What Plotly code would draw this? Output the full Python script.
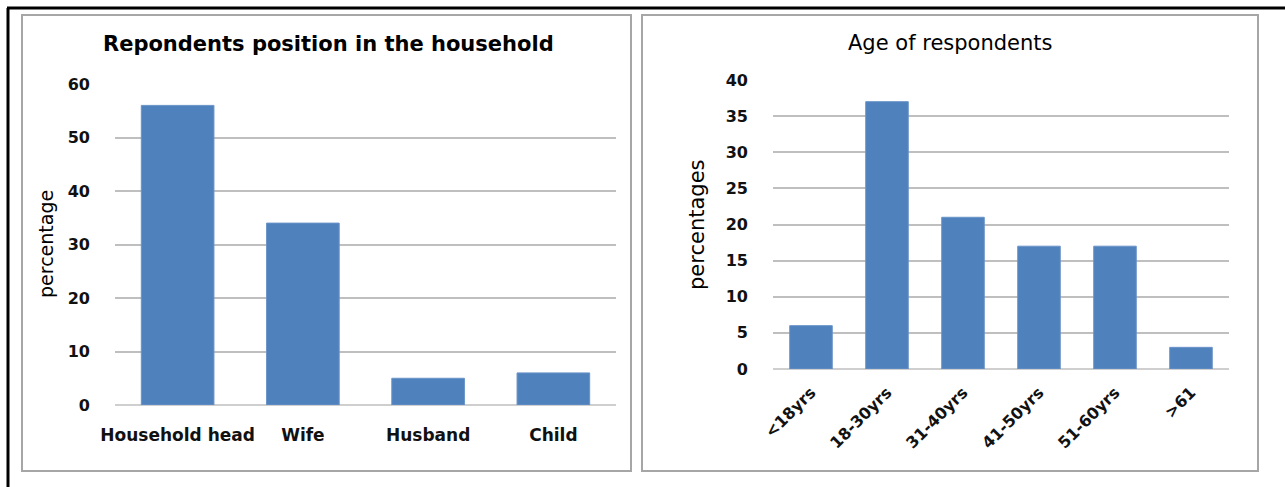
import plotly.graph_objects as go

W, H = 1285, 487

# Data
pos_categories = ["Household head", "Wife", "Husband", "Child"]
pos_values = [56, 34, 5, 6]
age_categories = ["<18yrs", "18-30yrs", "31-40yrs", "41-50yrs", "51-60yrs", ">61"]
age_values = [6, 37, 21, 17, 17, 3]

BAR = "#4f81bd"
GRID = "#bfbfbf"
FONT = "DejaVu Sans, Liberation Sans, Arial, sans-serif"

def px(x):
    return x / W

def py(y):
    return 1 - y / H

fig = go.Figure()
fig.add_trace(go.Bar(x=pos_categories, y=pos_values, marker=dict(color=BAR, line=dict(color="#6a93c8", width=1)),
                     width=0.58, xaxis="x", yaxis="y", showlegend=False))
fig.add_trace(go.Bar(x=age_categories, y=age_values, marker=dict(color=BAR, line=dict(color="#6a93c8", width=1)),
                     width=0.56, xaxis="x2", yaxis="y2", showlegend=False))

fig.update_layout(
    width=W, height=H,
    margin=dict(l=0, r=0, t=0, b=0, autoexpand=False),
    paper_bgcolor="white", plot_bgcolor="white",
    xaxis=dict(domain=[px(115), px(616)], anchor="y", showgrid=False, zeroline=False, automargin=False,
               showline=False, tickfont=dict(family=FONT, size=17, color="#111", weight="bold"),
               ticks="", ticklabelstandoff=18, fixedrange=True),
    yaxis=dict(domain=[py(405), py(84)], anchor="x", range=[0, 60], dtick=10, automargin=False,
               showgrid=True, gridcolor=GRID, gridwidth=1.5, zeroline=False, showline=False,
               tickfont=dict(family=FONT, size=16, color="#111", weight="bold"), ticks="", ticklabelstandoff=24),
    xaxis2=dict(domain=[px(773), px(1229)], anchor="y2", showgrid=False, zeroline=False, automargin=False,
                showline=False, tickfont=dict(family=FONT, size=16, color="#111", weight="bold"),
                tickangle=-45, ticks="", ticklabelstandoff=10),
    yaxis2=dict(domain=[py(369), py(80)], anchor="x2", range=[0, 40], dtick=5, automargin=False,
                showgrid=True, gridcolor=GRID, gridwidth=1.5, zeroline=False, showline=False,
                tickfont=dict(family=FONT, size=16, color="#111", weight="bold"), ticks="", ticklabelstandoff=24),
)

shapes = []
shapes.append(dict(type="line", xref="paper", yref="paper", x0=px(115), x1=px(616), y0=py(405), y1=py(405),
                   line=dict(color=GRID, width=1.5), layer="below"))
shapes.append(dict(type="line", xref="paper", yref="paper", x0=px(773), x1=px(1229), y0=py(369), y1=py(369),
                   line=dict(color=GRID, width=1.5), layer="below"))
# Panel borders
shapes.append(dict(type="rect", xref="paper", yref="paper", x0=px(22), x1=px(631), y0=py(471), y1=py(15),
                   line=dict(color="#a6a6a6", width=2)))
shapes.append(dict(type="rect", xref="paper", yref="paper", x0=px(642), x1=px(1258), y0=py(471), y1=py(15),
                   line=dict(color="#a6a6a6", width=2)))
# Outer black border (left & top)
shapes.append(dict(type="line", xref="paper", yref="paper", x0=px(8), x1=px(8), y0=0, y1=py(8),
                   line=dict(color="black", width=3)))
shapes.append(dict(type="line", xref="paper", yref="paper", x0=px(7), x1=1, y0=py(8), y1=py(8),
                   line=dict(color="black", width=3)))
fig.update_layout(shapes=shapes)

annotations = [
    dict(text="<b>Repondents position in the household</b>", x=px(328), y=py(44), xref="paper", yref="paper",
         showarrow=False, font=dict(family=FONT, size=21, color="#000"), xanchor="center", yanchor="middle"),
    dict(text="Age of respondents", x=px(950), y=py(43), xref="paper", yref="paper",
         showarrow=False, font=dict(family=FONT, size=21, color="#000"), xanchor="center", yanchor="middle"),
    dict(text="percentage", x=px(46), y=py(244), xref="paper", yref="paper", textangle=-90,
         showarrow=False, font=dict(family=FONT, size=19, color="#000"),
         xanchor="center", yanchor="middle"),
    dict(text="percentages", x=px(697), y=py(225), xref="paper", yref="paper", textangle=-90,
         showarrow=False, font=dict(family=FONT, size=21, color="#000"),
         xanchor="center", yanchor="middle"),
]
fig.update_layout(annotations=annotations)

fig.write_html("out.html")
